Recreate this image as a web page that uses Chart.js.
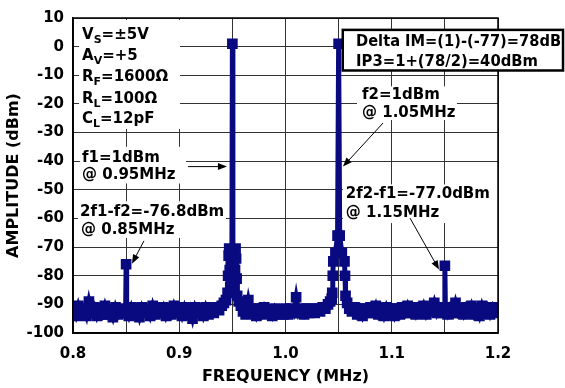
<!DOCTYPE html>
<html>
<head>
<meta charset="utf-8">
<script src="https://cdn.jsdelivr.net/npm/chart.js@4.4.1/dist/chart.umd.min.js"></script>
<style>
html,body{margin:0;padding:0;background:#fff;}
#c{display:block;}
</style>
</head>
<body>
<canvas id="c" width="565" height="388"></canvas>
<script>
// ---- data ----
const freqMHz = [
0.800,0.8025,0.805,0.8075,0.810,0.8125,0.815,0.8175,0.820,0.8225,0.825,0.8275,0.830,0.8325,0.835,0.8375,0.840,0.8425,0.845,0.8475,
0.8495,0.850,0.8505,
0.8525,0.855,0.8575,0.860,0.8625,0.865,0.8675,0.870,0.8725,0.875,0.8775,0.880,0.8825,0.885,0.8875,0.890,0.8925,
0.895,0.8975,0.900,0.9025,0.905,0.9075,0.910,0.9125,0.915,0.9175,0.920,0.9225,0.925,0.9275,0.930,0.9325,0.935,0.9375,
0.940,0.942,0.944,0.9455,0.946,0.9465,0.947,0.9475,0.948,0.9485,0.949,0.9495,0.950,0.9505,0.951,0.9515,0.952,0.9525,0.953,0.9535,0.954,0.9545,0.956,0.958,0.960,
0.9625,0.965,0.9675,0.970,0.9725,0.975,0.9775,0.980,0.9825,0.985,0.9875,0.990,0.9925,0.995,0.9975,
1.000,1.0025,1.005,1.0075,1.010,1.0125,1.015,1.0175,1.020,1.0225,1.025,1.0275,1.030,1.0325,1.035,1.0375,
1.040,1.042,1.0435,1.044,1.0445,1.045,1.047,1.049,1.050,1.051,1.053,1.0555,1.056,1.0565,1.058,1.060,
1.0625,1.065,1.0675,1.070,1.0725,1.075,1.0775,1.080,1.0825,1.085,1.0875,1.090,1.0925,1.095,1.0975,
1.100,1.1025,1.105,1.1075,1.110,1.1125,1.115,1.1175,1.120,1.1225,1.125,1.1275,1.130,1.1325,1.135,1.1375,
1.140,1.1425,1.145,1.1475,
1.1495,1.150,1.1505,
1.1525,1.155,1.1575,1.160,1.1625,1.165,1.1675,1.170,1.1725,1.175,1.1775,1.180,1.1825,1.185,1.1875,1.190,1.1925,1.195,1.1975,1.200
];
const ampDbm = [
-92,-94,-90.5,-93.5,-91.5,-94,-89,-93,-91,-94,-91.5,-93.5,-90.5,-93.5,-92,-94.5,-91,-93.5,-91.5,-93,
-92,-76,-92,
-94,-91,-93.5,-91.5,-94.5,-91,-93,-91.5,-94,-90.5,-93.5,-91.5,-93,-91,-94,-91.5,-93.5,
-90.5,-93,-91.5,-94,-91,-93.5,-91.5,-95,-91,-93,-91.5,-94,-91,-93.5,-91.5,-93,-91,-92,
-90.5,-89.5,-88.5,-86,-80,-73,-70.5,-78,-84,-76,-71,-80,1,-80,-71,-77,-84,-78,-70.5,-74,-81,-87,-89,-90.5,-92.5,
-93.5,-88.5,-93,-91.5,-94,-91.5,-93.5,-91,-93,-92,-94,-91.5,-93.5,-92,-93.5,
-91.5,-93.5,-91.5,-93,-87.5,-93,-91.5,-93.5,-91.5,-93,-91.5,-93,-91.5,-92.5,-91,-91.5,
-90,-89,-88,-86,-80,-75,-72,-66,1,-66,-72,-75,-80,-87,-89.5,-91.5,
-92.5,-91,-93.5,-91.5,-94,-91.5,-93,-91,-93,-90.5,-93.5,-91.5,-94,-91,-93.5,
-91.5,-94,-91.5,-93.5,-91,-93,-90.5,-93,-91.5,-93.5,-91,-93,-90.5,-93.5,-91.5,-92.5,
-89.5,-93,-91,-93,
-92,-76.5,-92,
-93.5,-91,-93,-89.5,-93,-91.5,-93.5,-91,-93,-90.5,-93.5,-91.5,-94,-90.5,-93,-91,-93.5,-91,-93,-91.5
];
const xTickValues = [0.8,0.85,0.9,0.95,1.0,1.05,1.1,1.15,1.2];
const xTickLabels = ['0.8','','0.9','','1.0','','1.1','','1.2'];
const yTickValues = [10,0,-10,-20,-30,-40,-50,-60,-70,-80,-90,-100];

// annotation texts (positions in data units: MHz, dBm)
const paramLines = [
  {x:0.8085, y:2.74,   segs:[['V',0],['S',1],['=\u00B15V',0]]},
  {x:0.8085, y:-4.70,  segs:[['A',0],['V',1],['=+5',0]]},
  {x:0.8085, y:-11.96, segs:[['R',0],['F',1],['=1600\u03A9',0]]},
  {x:0.8085, y:-19.57, segs:[['R',0],['L',1],['=100\u03A9',0]]},
  {x:0.8085, y:-26.67, segs:[['C',0],['L',1],['=12pF',0]]}
];
const labelLines = [
  {x:0.8085, y:-40.33, segs:[['f1=1dBm',0]]},
  {x:0.8085, y:-46.21, segs:[['@ 0.95MHz',0]]},
  {x:1.0720, y:-18.36, segs:[['f2=1dBm',0]]},
  {x:1.0720, y:-24.59, segs:[['@ 1.05MHz',0]]},
  {x:1.0567, y:-52.95, segs:[['2f2-f1=-77.0dBm',0]]},
  {x:1.0567, y:-59.53, segs:[['@ 1.15MHz',0]]},
  {x:0.8066, y:-59.18, segs:[['2f1-f2=-76.8dBm',0]]},
  {x:0.8075, y:-65.41, segs:[['@ 0.85MHz',0]]},
  {x:1.0664, y:0.31,   segs:[['Delta IM=(1)-(-77)=78dB',0]], maxW:205},
  {x:1.0664, y:-6.60,  segs:[['IP3=1+(78/2)=40dBm',0]], maxW:182}
];
const whiteBlocks = [
  {x0:0.8057, x1:0.9007, y0:9.31,  y1:-28.74},
  {x0:0.8066, x1:0.9064, y0:-34.97,y1:-47.77},
  {x0:1.0673, x1:1.1614, y0:-13.87,y1:-25.63},
  {x0:1.0539, x1:1.2000, y0:-48.11,y1:-61.60},
  {x0:0.8047, x1:0.9440, y0:-53.99,y1:-66.79}
];
const deltaBox = {x0:1.0539, x1:1.2612, y0:5.85, y1:-8.33};
const arrows = [
  {x0:0.9082, y0:-41.89, x1:0.9449, y1:-41.89},
  {x0:1.0918, y0:-26.67, x1:1.0541, y1:-41.89},
  {x0:1.1172, y0:-59.87, x1:1.1445, y1:-77.86},
  {x0:0.8668, y0:-67.83, x1:0.8555, y1:-75.78}
];

const FONT = '"DejaVu Sans", sans-serif';
const points = freqMHz.map((f,i)=>({x:f, y:ampDbm[i]}));

function drawSegs(ctx, X, Y, line){
  let px = X(line.x), py = Y(line.y);
  for (const [t, sub] of line.segs){
    ctx.font = sub ? 'bold 11px '+FONT : 'bold 15px '+FONT;
    if (line.maxW) { ctx.fillText(t, px, py, line.maxW); px += Math.min(line.maxW, ctx.measureText(t).width); }
    else { ctx.fillText(t, px, py + (sub ? 4 : 0)); px += ctx.measureText(t).width; }
  }
}

const annot = {
  id:'annot',
  beforeDatasetsDraw(chart){
    const {ctx, scales:{x,y}} = chart;
    const X=v=>x.getPixelForValue(v), Y=v=>y.getPixelForValue(v);
    ctx.save();
    ctx.fillStyle='#fff';
    for (const b of whiteBlocks){
      ctx.fillRect(X(b.x0), Y(b.y0), X(b.x1)-X(b.x0), Y(b.y1)-Y(b.y0));
    }
    ctx.restore();
  },
  afterDatasetsDraw(chart){
    const {ctx, chartArea:a, scales:{x,y}} = chart;
    const X=v=>x.getPixelForValue(v), Y=v=>y.getPixelForValue(v);
    ctx.save();
    // frame
    ctx.strokeStyle='#000'; ctx.lineWidth=1.5;
    ctx.strokeRect(a.left, a.top, a.right-a.left, a.bottom-a.top);
    // delta box
    ctx.fillStyle='#fff';
    const bx=X(deltaBox.x0), by=Y(deltaBox.y0), bw=X(deltaBox.x1)-bx, bh=Y(deltaBox.y1)-by;
    ctx.fillRect(bx,by,bw,bh);
    ctx.lineWidth=2.5; ctx.strokeRect(bx,by,bw,bh);
    // texts
    ctx.fillStyle='#000'; ctx.textBaseline='alphabetic'; ctx.textAlign='left';
    for (const l of paramLines) drawSegs(ctx,X,Y,l);
    for (const l of labelLines) drawSegs(ctx,X,Y,l);
    // arrows
    ctx.lineWidth=1; ctx.strokeStyle='#000'; ctx.fillStyle='#000';
    for (const ar of arrows){
      const x0=X(ar.x0), y0=Y(ar.y0), x1=X(ar.x1), y1=Y(ar.y1);
      const ang=Math.atan2(y1-y0, x1-x0);
      ctx.beginPath(); ctx.moveTo(x0,y0);
      ctx.lineTo(x1-7*Math.cos(ang), y1-7*Math.sin(ang)); ctx.stroke();
      ctx.beginPath();
      ctx.moveTo(x1,y1);
      ctx.lineTo(x1-9*Math.cos(ang)+3.5*Math.sin(ang), y1-9*Math.sin(ang)-3.5*Math.cos(ang));
      ctx.lineTo(x1-9*Math.cos(ang)-3.5*Math.sin(ang), y1-9*Math.sin(ang)+3.5*Math.cos(ang));
      ctx.closePath(); ctx.fill();
    }
    ctx.restore();
  }
};

new Chart(document.getElementById('c'), {
  type:'scatter',
  data:{datasets:[{
    data:points,
    showLine:true,
    borderColor:'#0a0a80',
    backgroundColor:'#0a0a80',
    borderWidth:5,
    pointStyle:'rect',
    pointRadius:4,
    pointHoverRadius:4,
    tension:0
  }]},
  options:{
    responsive:false,
    animation:false,
    devicePixelRatio:1,
    layout:{padding:{left:0, top:15, right:67, bottom:0}},
    plugins:{legend:{display:false}, tooltip:{enabled:false}},
    scales:{
      x:{
        type:'linear', min:0.8, max:1.2,
        afterBuildTicks:(s)=>{ s.ticks = xTickValues.map(v=>({value:v})); },
        afterFit:(s)=>{ s.height = 55; },
        ticks:{
          autoSkip:false, maxRotation:0, padding:12, color:'#000',
          font:{family:FONT, weight:'bold', size:15},
          callback:(v,i)=>xTickLabels[i]
        },
        grid:{color:'#333', lineWidth:1, drawTicks:false},
        border:{display:true, color:'#000', width:1.5},
        title:{display:true, text:'FREQUENCY (MHz)', color:'#000',
          font:{family:FONT, weight:'bold', size:16}, padding:{top:0, bottom:2}}
      },
      y:{
        type:'linear', min:-100, max:10,
        afterBuildTicks:(s)=>{ s.ticks = yTickValues.map(v=>({value:v})); },
        afterFit:(s)=>{ s.width = 73; },
        ticks:{
          autoSkip:false, padding:9, color:'#000',
          font:{family:FONT, weight:'bold', size:15},
          callback:(v)=>String(v)
        },
        grid:{color:'#333', lineWidth:1, drawTicks:false},
        border:{display:true, color:'#000', width:1.5},
        title:{display:true, text:'AMPLITUDE (dBm)', color:'#000',
          font:{family:FONT, weight:'bold', size:16}, padding:{top:4, bottom:0}}
      }
    }
  },
  plugins:[annot]
});
</script>
</body>
</html>
